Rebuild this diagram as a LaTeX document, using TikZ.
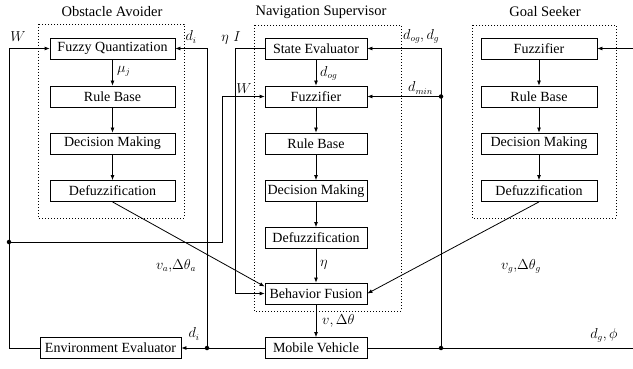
\documentclass[tikz,border=0pt]{standalone}
\usepackage{fontspec}
\setmainfont{Liberation Serif}
\usetikzlibrary{arrows.meta}
\begin{document}
\begin{tikzpicture}[x=1pt,y=-1pt,
 blk/.style={draw, line width=0.8pt, minimum height=21pt, inner sep=0pt, font=\fontsize{14}{15}\selectfont},
 oa/.style={blk, minimum width=125pt},
 nv/.style={blk, minimum width=102pt},
 gs/.style={blk, minimum width=116pt},
 frm/.style={draw, line width=0.9pt, dash pattern=on 1pt off 2pt},
 ln/.style={line width=0.8pt},
 arr/.style={ln, -{Latex[length=5pt,width=4pt]}},
 lbl/.style={font=\fontsize{13.5}{14}\selectfont, inner sep=1pt},
 ttl/.style={font=\fontsize{14.5}{15}\selectfont, inner sep=0pt},
 dot/.style={circle, fill, inner sep=0pt, minimum size=4.5pt}]
\useasboundingbox (0,0) rectangle (633,369);
% frames
\draw[frm] (38,24) rectangle (184,218);
\draw[frm] (254,25) rectangle (401,311);
\draw[frm] (472,25) rectangle (616,218);
% titles
\node[ttl] (t1) at (112,12) {Obstacle Avoider};
\node[ttl] (t2) at (321,12) {Navigation Supervisor};
\node[ttl] (t3) at (545,12) {Goal Seeker};
% obstacle avoider
\node[oa] (fq) at (112.5,48.5) {Fuzzy Quantization};
\node[oa] (rb1) at (112.5,96.5) {Rule Base};
\node[oa] (dm1) at (112.5,143.5) {Decision Making};
\node[oa] (df1) at (112.5,191) {Defuzzification};
% navigation supervisor
\node[nv] (se) at (316,48.5) {State Evaluator};
\node[nv] (fz2) at (316,96.5) {Fuzzifier};
\node[nv] (rb2) at (316,143.5) {Rule Base};
\node[nv] (dm2) at (316,191) {Decision Making};
\node[nv] (df2) at (316,238) {Defuzzification};
\node[nv] (bf) at (316,293.5) {Behavior Fusion};
\node[nv] (mv) at (316,348) {Mobile Vehicle};
\node[blk, minimum width=141pt] (ee) at (110.5,348) {Environment Evaluator};
% goal seeker
\node[gs] (fz3) at (539,48.5) {Fuzzifier};
\node[gs] (rb3) at (539,96.5) {Rule Base};
\node[gs] (dm3) at (539,143.5) {Decision Making};
\node[gs] (df3) at (539,191) {Defuzzification};
% vertical arrows
\draw[arr] (fq) -- (rb1);
\draw[arr] (rb1) -- (dm1);
\draw[arr] (dm1) -- (df1);
\draw[arr] (se) -- (fz2);
\draw[arr] (fz2) -- (rb2);
\draw[arr] (rb2) -- (dm2);
\draw[arr] (dm2) -- (df2);
\draw[arr] (df2) -- (bf);
\draw[arr] (bf) -- (mv);
\draw[arr] (fz3) -- (rb3);
\draw[arr] (rb3) -- (dm3);
\draw[arr] (dm3) -- (df3);
% right input to goal seeker
\coordinate (rin) at (633,48.5);
\draw[arr] (rin) -- (fz3.east);
% W loop
\coordinate (wtop) at (9,48.5);
\draw[arr] (ee.west) -| (wtop) -- (fq.west);
\node[dot] (wd) at (9,242) {};
\coordinate (wc) at (222,242);
\coordinate (wc2) at (222,96.5);
\draw[arr] (wd.center) -- (wc) -- (wc2) -- (fz2.west);
% d_i loop
\draw[arr] (mv.west) -- (ee.east);
\node[dot] (dd) at (207,348) {};
\coordinate (dtop) at (207,48.5);
\draw[arr] (dd.center) -- (dtop) -- (fq.east);
% eta loop
\coordinate (e1) at (235,48.5);
\coordinate (e2) at (235,293.5);
\draw[arr] (se.west) -- (e1) -- (e2) -- (bf.west);
% diagonals
\draw[arr] (df1.south) -- ([yshift=7pt]bf.west);
\draw[arr] (df3.south) -- (bf.east);
% right side
\coordinate (rout) at (633,348);
\draw[ln] (mv.east) -- (rout);
\node[dot] (gd) at (441,348) {};
\node[dot] (gd2) at (441,96.5) {};
\coordinate (gt) at (441,48.5);
\draw[arr] (gd.center) -- (gt) -- (se.east);
\draw[arr] (gd2.center) -- (fz2.east);
% labels
\node[lbl] (lw1) at (18,37) {$W$};
\node[lbl] (ld1) at (191,37) {$d_i$};
\node[lbl, anchor=west] (lmu) at (116,71) {$\mu_j$};
\node[lbl] (leta) at (231,38) {$\eta$\,\,$I$};
\node[lbl, anchor=west] (ldog) at (319,73) {$d_{og}$};
\node[lbl] (lw2) at (244,89) {$W$};
\node[lbl, anchor=west] (ldg) at (402,36) {$d_{og}, d_g$};
\node[lbl, anchor=west] (ldmin) at (407,88) {$d_{min}$};
\node[lbl, anchor=west] (leta2) at (319,265) {$\eta$};
\node[lbl, anchor=west] (lv) at (321,321) {$v, \Delta\theta$};
\node[lbl] (lva) at (176,266) {$v_a,\!\Delta\theta_a$};
\node[lbl] (lvg) at (521,266) {$v_g,\!\Delta\theta_g$};
\node[lbl] (ldi2) at (194,334) {$d_i$};
\node[lbl] (ldp) at (604,335) {$d_g, \phi$};
\end{tikzpicture}
\end{document}
